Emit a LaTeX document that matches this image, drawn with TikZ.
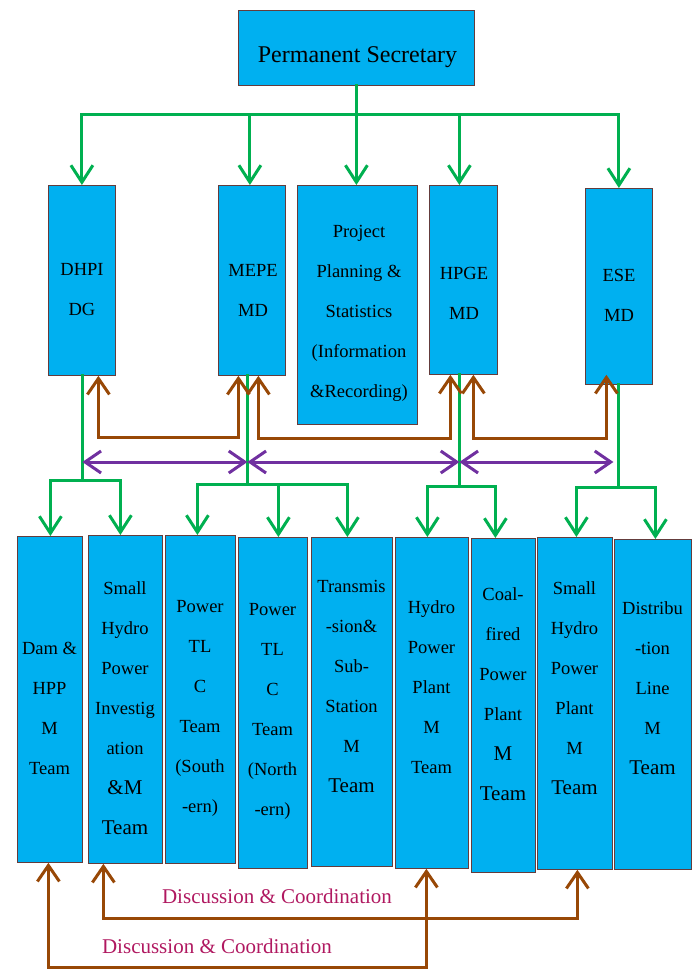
\documentclass[tikz,border=0pt]{standalone}
\usepackage{fontspec}
\setmainfont{Liberation Serif}
\usetikzlibrary{arrows.meta}
\definecolor{boxfill}{RGB}{0,176,240}
\definecolor{boxline}{RGB}{100,60,60}
\definecolor{gr}{RGB}{0,176,80}
\definecolor{br}{RGB}{152,72,6}
\definecolor{pu}{RGB}{112,48,160}
\definecolor{lab}{RGB}{176,24,96}
\newcommand\bigtxt[1]{{\fontsize{21}{40}\selectfont #1}}
\begin{document}
\begin{tikzpicture}[x=1pt,y=-1pt,
  box/.style={draw=boxline, fill=boxfill, line width=0.8pt, inner sep=0pt, anchor=north west},
  txt/.style={align=center, inner sep=0pt, font=\fontsize{18.5}{40}\selectfont},
  gline/.style={draw=gr, line width=3pt, line cap=rect},
  garrow/.style={gline, -{Straight Barb[length=17pt,width=22pt]}},
  parrow/.style={draw=pu, line width=3pt, {Straight Barb[length=16pt,width=22pt]}-{Straight Barb[length=16pt,width=22pt]}},
  barrow/.style={draw=br, line width=3pt, {Straight Barb[length=16pt,width=22pt]}-{Straight Barb[length=16pt,width=22pt]}},
  labtxt/.style={text=lab, inner sep=0pt, font=\fontsize{21}{24}\selectfont}
]
\useasboundingbox (0,0) rectangle (696,969);

% ---------- boxes ----------
\node[box, minimum width=236, minimum height=75] (ps) at (238,10) {};
\node[box, minimum width=67, minimum height=190] (dhpi) at (48,185) {};
\node[box, minimum width=67, minimum height=190] (mepe) at (218,185) {};
\node[box, minimum width=120, minimum height=239] (pp) at (297,185) {};
\node[box, minimum width=68, minimum height=189] (hpge) at (429,185) {};
\node[box, minimum width=67, minimum height=196] (ese) at (585,188) {};

\node[box, minimum width=65, minimum height=326] (d1) at (17,536) {};
\node[box, minimum width=74, minimum height=328] (d2) at (88,535) {};
\node[box, minimum width=70, minimum height=328] (d3) at (165,535) {};
\node[box, minimum width=69, minimum height=331] (d4) at (238,537) {};
\node[box, minimum width=81, minimum height=329] (d5) at (311,537) {};
\node[box, minimum width=73, minimum height=331] (d6) at (395,537) {};
\node[box, minimum width=64, minimum height=334] (d7) at (471,538) {};
\node[box, minimum width=75, minimum height=332] (d8) at (537,537) {};
\node[box, minimum width=77, minimum height=330] (d9) at (614,539) {};

% ---------- texts ----------
\node[txt, font=\fontsize{24}{28}\selectfont] (tps) at (357.5,57) {Permanent Secretary};
\node[txt] (tD) at (82,290) {DHPI\\DG};
\node[txt] (tM) at (253,290) {MEPE\\MD};
\node[txt] (tP) at (359,313.5) {Project\\Planning \&\\Statistics\\(Information\\\&Recording)};
\node[txt] (tH) at (464,293) {HPGE\\MD};
\node[txt] (tE) at (619,295) {ESE\\MD};

\node[txt] (b1) at (49.5,708.5) {Dam \&\\HPP\\M\\Team};
\node[txt] (b2) at (125,708.5) {Small\\Hydro\\Power\\Investig\\ation\\\bigtxt{\&M}\\\bigtxt{Team}};
\node[txt] (b3) at (200,708.5) {Power\\TL\\C\\Team\\(South\\-ern)};
\node[txt] (b4) at (272.5,711.5) {Power\\TL\\C\\Team\\(North\\-ern)};
\node[txt] (b5) at (351.5,686) {Transmis\\-sion\&\\Sub-\\Station\\M\\\bigtxt{Team}};
\node[txt] (b6) at (431.5,687) {Hydro\\Power\\Plant\\M\\Team};
\node[txt] (b7) at (503,694) {Coal-\\fired\\Power\\Plant\\\bigtxt{M}\\\bigtxt{Team}};
\node[txt] (b8) at (574.5,688) {Small\\Hydro\\Power\\Plant\\M\\\bigtxt{Team}};
\node[txt] (b9) at (652.5,688) {Distribu\\-tion\\Line\\M\\\bigtxt{Team}};

\node[labtxt] (l1) at (277,896) {Discussion \& Coordination};
\node[labtxt] (l2) at (217,946) {Discussion \& Coordination};

% ---------- green: top level ----------
\coordinate (busY) at (0,114);
\coordinate (aD) at (dhpi.north);
\coordinate (aM) at ([xshift=-2pt]mepe.north);
\coordinate (aP) at ([xshift=-1pt]pp.north);
\coordinate (aH) at ([xshift=-4pt]hpge.north);
\coordinate (aE) at (ese.north);
\draw[gline] (aD |- busY) -- (aE |- busY);
\draw[garrow] (ps.south -| aP) -- (aP);
\draw[garrow] (aD |- busY) -- (aD);
\draw[garrow] (aM |- busY) -- (aM);
\draw[garrow] (aH |- busY) -- (aH);
\draw[garrow] (aE |- busY) -- (aE);

% ---------- green: lower level ----------
\coordinate (sD) at ([xshift=0.5pt]dhpi.south);
\coordinate (sM) at ([xshift=-4.5pt]mepe.south);
\coordinate (sH) at ([xshift=-4pt]hpge.south);
\coordinate (sE) at ([xshift=-0.5pt]ese.south);
\coordinate (yD) at (0,480);
\coordinate (yM) at (0,484);
\coordinate (yH) at (0,486);
\coordinate (yE) at (0,487);
\coordinate (t1) at ([xshift=0.5pt]d1.north);
\coordinate (t2) at ([xshift=-5pt]d2.north);
\coordinate (t3) at ([xshift=-3pt]d3.north);
\coordinate (t4) at ([xshift=5.5pt]d4.north);
\coordinate (t5) at ([xshift=-4.5pt]d5.north);
\coordinate (t6) at ([xshift=-4.5pt]d6.north);
\coordinate (t7) at ([xshift=-8pt]d7.north);
\coordinate (t8) at ([xshift=1.5pt]d8.north);
\coordinate (t9) at ([xshift=2.5pt]d9.north);

\draw[gline] (sD) -- (sD |- yD);
\draw[gline] (t1 |- yD) -- (t2 |- yD);
\draw[garrow] (t1 |- yD) -- (t1);
\draw[garrow] (t2 |- yD) -- (t2);

\draw[gline] (sM) -- (sM |- yM);
\draw[gline] (t3 |- yM) -- (t5 |- yM);
\draw[garrow] (t3 |- yM) -- (t3);
\draw[garrow] (t4 |- yM) -- (t4);
\draw[garrow] (t5 |- yM) -- (t5);

\draw[gline] (sH) -- (sH |- yH);
\draw[gline] (t6 |- yH) -- (t7 |- yH);
\draw[garrow] (t6 |- yH) -- (t6);
\draw[garrow] (t7 |- yH) -- (t7);

\draw[gline] (sE) -- (sE |- yE);
\draw[gline] (t8 |- yE) -- (t9 |- yE);
\draw[garrow] (t8 |- yE) -- (t8);
\draw[garrow] (t9 |- yE) -- (t9);

% ---------- brown: between middle boxes ----------
\draw[barrow] ([xshift=16.5pt]dhpi.south) -- ++(0,62) -| ([xshift=-13.5pt]mepe.south);
\draw[barrow] ([xshift=6.5pt]mepe.south) -- ++(0,63) -| ([xshift=-13pt]hpge.south);
\draw[barrow] ([xshift=10pt]hpge.south) -- ++(0,64) -| ([xshift=-12.5pt,yshift=10pt]ese.south);

% ---------- purple ----------
\coordinate (yP) at (0,462);
\coordinate (pE) at ([xshift=-5pt]sE);
\draw[parrow] (sD |- yP) -- (sM |- yP);
\draw[parrow] (sM |- yP) -- (sH |- yP);
\draw[parrow] (sH |- yP) -- (pE |- yP);

% ---------- brown: bottom ----------
\draw[barrow] ([xshift=-1.5pt]d1.south) -- ++(0,105) -| ([xshift=-5.5pt]d6.south);
\draw[barrow] ([xshift=-22pt]d2.south) -- ++(0,55) -| ([xshift=2.5pt]d8.south);
\end{tikzpicture}
\end{document}
